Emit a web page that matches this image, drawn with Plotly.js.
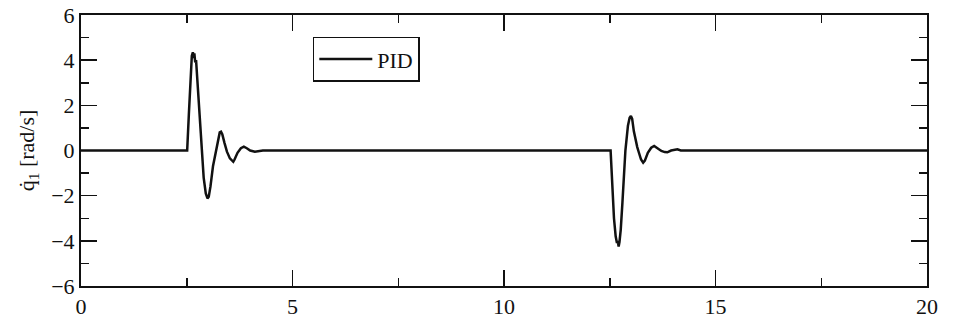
<!DOCTYPE html>
<html>
<head>
<meta charset="utf-8">
<script src="https://cdn.plot.ly/plotly-3.0.1.min.js"></script>
<style>html,body{margin:0;padding:0;background:#fff;}#chart{width:957px;height:326px;}</style>
</head>
<body>
<div id="chart"></div>
<script>
// time [s]
const timeS = [0, 2.51, 2.55, 2.59, 2.62, 2.645, 2.66, 2.68, 2.70, 2.72, 2.74, 2.77, 2.81, 2.85, 2.90, 2.95, 2.99, 3.02, 3.06, 3.12, 3.19, 3.25, 3.28, 3.31, 3.34, 3.39, 3.45, 3.52, 3.57, 3.60, 3.63, 3.70, 3.78, 3.85, 3.92, 4.00, 4.11, 4.20, 4.30,
  12.52, 12.56, 12.60, 12.64, 12.67, 12.69, 12.71, 12.73, 12.76, 12.80, 12.87, 12.93, 12.97, 13.00, 13.03, 13.07, 13.12, 13.15, 13.19, 13.24, 13.29, 13.33, 13.40, 13.48, 13.55, 13.63, 13.72, 13.80, 13.86, 13.95, 14.05, 14.10, 14.18, 20];
// joint velocity q1-dot [rad/s], PID
const pidVel = [0, 0, 1.6, 3.4, 4.2, 4.35, 4.1, 4.3, 3.9, 4.0, 3.4, 2.5, 1.2, 0, -1.2, -1.9, -2.12, -2.05, -1.6, -0.7, 0, 0.6, 0.8, 0.83, 0.72, 0.35, -0.05, -0.35, -0.45, -0.5, -0.4, -0.1, 0.1, 0.17, 0.1, 0.0, -0.05, -0.02, 0,
  0, -1.5, -3.0, -3.8, -4.1, -4.0, -4.25, -4.05, -3.5, -2.3, 0, 1.1, 1.45, 1.53, 1.4, 0.85, 0.3, 0.15, -0.1, -0.4, -0.54, -0.45, -0.1, 0.12, 0.2, 0.1, -0.02, -0.07, -0.08, 0.0, 0.02, 0.05, 0, 0];
const xTickVals = [0, 5, 10, 15, 20];
const yTickVals = [-6, -4, -2, 0, 2, 4, 6];
const seriesName = 'PID';
const yTitle = 'q\u0307<sub>1</sub> [rad/s]';

const serif = 'Liberation Serif, Times New Roman, serif';
const axisCommon = {
  showline: true, linecolor: '#111', linewidth: 2,
  mirror: 'allticks', ticks: 'inside', ticklen: 16, tickwidth: 1.5, tickcolor: '#111',
  showgrid: false, zeroline: false,
  tickfont: {family: serif, size: 22, color: '#111'}
};
const layout = {
  width: 957, height: 326,
  margin: {l: 81, r: 30, t: 15, b: 40},
  paper_bgcolor: '#fff', plot_bgcolor: '#fff',
  showlegend: true,
  legend: {x: 0.274, y: 0.92, xanchor: 'left', yanchor: 'top', bordercolor: '#111', borderwidth: 1.5,
    itemwidth: 53,
    bgcolor: '#fff', font: {family: serif, size: 22, color: '#111'}},
  xaxis: Object.assign({}, axisCommon, {range: [0, 20], tickvals: xTickVals, automargin: false,
    minor: {dtick: 2.5, ticks: 'inside', ticklen: 8, tickwidth: 1.5, tickcolor: '#111'}}),
  yaxis: Object.assign({}, axisCommon, {range: [-6, 6], tickvals: yTickVals, automargin: 'left',
    minor: {dtick: 1, ticks: 'inside', ticklen: 8, tickwidth: 1.5, tickcolor: '#111'},
    title: {text: yTitle, standoff: 10, font: {family: serif, size: 22, color: '#111'}}})
};
Plotly.newPlot('chart', [{
  x: timeS, y: pidVel, type: 'scatter', mode: 'lines', name: seriesName,
  line: {color: '#111', width: 2.5}
}], layout, {staticPlot: true});
</script>
</body>
</html>
